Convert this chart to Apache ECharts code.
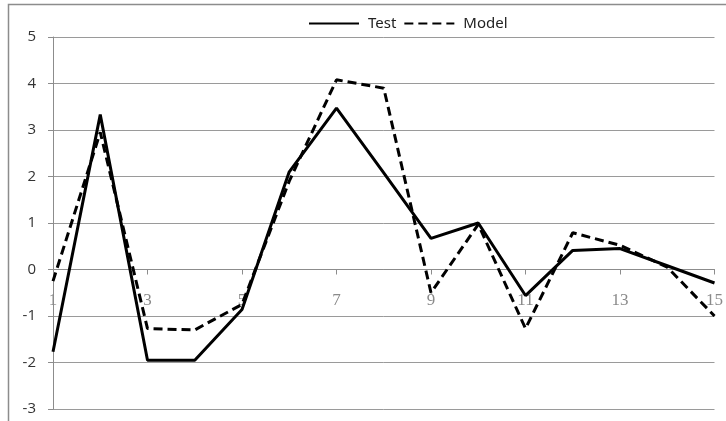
<!DOCTYPE html>
<html>
<head>
<meta charset="utf-8">
<script src="https://cdn.jsdelivr.net/npm/echarts@6/dist/echarts.min.js"></script>
<style>
  html, body { margin: 0; padding: 0; background: #fff; }
  #chart { width: 726px; height: 421px; }
</style>
</head>
<body>
<div id="chart"></div>
<script>
// Sample index along the horizontal axis
const categories = ['1','2','3','4','5','6','7','8','9','10','11','12','13','14','15'];
// Measured values
const testValues = [-1.77, 3.33, -1.95, -1.95, -0.86, 2.1, 3.47, 2.08, 0.67, 1.0, -0.56, 0.41, 0.45, 0.08, -0.29];
// Model prediction
const modelValues = [-0.25, 2.95, -1.27, -1.3, -0.75, 1.9, 4.08, 3.9, -0.5, 0.97, -1.27, 0.79, 0.52, 0.05, -1.0];

const yMin = -3, yMax = 5;
const gridBox = { left: 53, right: 10, top: 37, bottom: 12 };
const plotHeight = 421 - gridBox.top - gridBox.bottom;
// lift the category axis from the plot bottom up to the y = 0 line
const zeroLift = plotHeight * (0 - yMin) / (yMax - yMin);

const chart = echarts.init(document.getElementById('chart'));
chart.setOption({
  animation: false,
  backgroundColor: '#fff',
  graphic: [{
    type: 'rect',
    shape: { x: 8.5, y: 4.5, width: 800, height: 500 },
    style: { fill: 'none', stroke: '#8c8c8c', lineWidth: 1.5 },
    silent: true
  }],
  legend: {
    top: 11,
    left: 303,
    itemWidth: 50,
    itemHeight: 14,
    itemGap: 7,
    itemStyle: { opacity: 0 },
    textStyle: { fontFamily: 'Noto Sans', fontSize: 15, color: '#222', padding: [0, 0, 0, 4] },
    data: ['Test', 'Model']
  },
  grid: Object.assign({ containLabel: false }, gridBox),
  xAxis: {
    type: 'category',
    data: categories,
    boundaryGap: false,
    position: 'bottom',
    offset: -zeroLift,
    axisLine: { onZero: false, lineStyle: { color: '#8c8c8c', width: 1 } },
    axisTick: { show: true, interval: 1, length: 5, inside: false, lineStyle: { color: '#8c8c8c' } },
    axisLabel: {
      interval: 1,
      margin: 23,
      fontFamily: 'Liberation Serif',
      fontSize: 17,
      color: '#8a8a8a'
    },
    splitLine: { show: false }
  },
  yAxis: {
    type: 'value',
    min: yMin,
    max: yMax,
    interval: 1,
    axisLine: { show: true, lineStyle: { color: '#8c8c8c', width: 1 } },
    axisTick: { show: true, length: 5, lineStyle: { color: '#8c8c8c' } },
    axisLabel: { margin: 17, fontFamily: 'Open Sans', fontSize: 15, color: '#333' },
    splitLine: { show: true, lineStyle: { color: '#9a9a9a', width: 1 } }
  },
  series: [
    {
      name: 'Test',
      type: 'line',
      data: testValues,
      symbol: 'none',
      lineStyle: { color: '#000', width: 3 },
      itemStyle: { color: '#000' }
    },
    {
      name: 'Model',
      type: 'line',
      data: modelValues,
      symbol: 'none',
      lineStyle: { color: '#000', width: 3, type: [9, 5] },
      itemStyle: { color: '#000' }
    }
  ]
});
</script>
</body>
</html>
